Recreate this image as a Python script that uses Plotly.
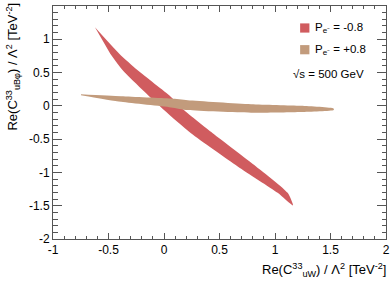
import plotly.graph_objects as go

# ---------------- data ----------------
# P_e- = -0.8 allowed region : two boundary edges (x, y in TeV^-2)
red_edge_a_x = [-0.622, -0.403, -0.237, 0.063, 0.180, 0.439, 0.829, 1.114, 1.162]
red_edge_a_y = [1.179, 0.782, 0.533, 0.134, -0.064, -0.412, -0.910, -1.307, -1.497]
red_edge_b_x = [-0.484, -0.372, 0.000, 0.243, 0.664, 1.024]
red_edge_b_y = [0.782, 0.533, -0.064, -0.412, -0.910, -1.307]

# P_e- = +0.8 allowed region
tan_upper_x = [-0.748, -0.387, 0.063, 0.214, 0.784, 1.234, 1.529]
tan_upper_y = [0.175, 0.145, 0.110, 0.085, 0.025, 0.000, -0.042]
tan_lower_x = [-0.748, -0.387, 0.063, 0.214, 0.784, 1.234, 1.529]
tan_lower_y = [0.160, 0.060, -0.024, -0.064, -0.104, -0.094, -0.064]

x_tickvals = [-1, -0.5, 0, 0.5, 1, 1.5, 2]
x_ticktext = ["-1", "-0.5", "0", "0.5", "1", "1.5", "2"]
y_tickvals = [-2, -1.5, -1, -0.5, 0, 0.5, 1, 1.5]
y_ticktext = ["-2", "-1.5", "-1", "-0.5", "0", "0.5", "1", "1.5"]

legend_labels = ["P<sub>e⁻</sub> = -0.8", "P<sub>e⁻</sub> = +0.8"]
energy_label = "√s = 500 GeV"
x_title = "Re(C<sup>33</sup><sub>uW</sub>) / Λ<sup>2</sup> [TeV<sup>-2</sup>]"
y_title = "Re(C<sup>33</sup><sub>uBφ</sub>) / Λ<sup>2</sup> [TeV<sup>-2</sup>]"

RED = "#d05c5f"
TAN = "#c29b7c"
FONT = "Liberation Sans, Arial, Helvetica, sans-serif"

# ---------------- layout geometry (pixels) ----------------
W, H = 391, 284
L, R, T, B = 52.5, 386, 6, 239


def px_x(p):
    return (p - L) / (R - L)


def px_y(p):
    return (B - p) / (B - T)


fig = go.Figure()

fig.add_trace(go.Scatter(
    x=red_edge_a_x + red_edge_b_x[::-1],
    y=red_edge_a_y + red_edge_b_y[::-1],
    fill="toself", fillcolor=RED, mode="lines",
    line=dict(width=0, color=RED, shape="spline", smoothing=0.6),
    showlegend=False, hoverinfo="skip"))

fig.add_trace(go.Scatter(
    x=tan_upper_x + tan_lower_x[::-1],
    y=tan_upper_y + tan_lower_y[::-1],
    fill="toself", fillcolor=TAN, mode="lines",
    line=dict(width=0, color=TAN, shape="spline", smoothing=0.6),
    showlegend=False, hoverinfo="skip"))

axis_common = dict(
    showgrid=False, zeroline=False, showline=True, linecolor="#555555", linewidth=1,
    mirror="ticks", ticks="inside", tickcolor="#555555", tickwidth=1,
    tickfont=dict(family=FONT, size=12, color="black"), automargin=False,
)

fig.update_xaxes(range=[-1, 2], tickvals=x_tickvals, ticktext=x_ticktext,
                 ticklen=6, minor=dict(ticks="inside", dtick=0.1, ticklen=3,
                                       tickcolor="#555555", tickwidth=1),
                 **axis_common)
fig.update_yaxes(range=[-2, 1.5], tickvals=y_tickvals, ticktext=y_ticktext,
                 ticklen=9, minor=dict(ticks="inside", dtick=0.1, ticklen=4.5,
                                       tickcolor="#555555", tickwidth=1),
                 **axis_common)

shapes = []
annotations = []
# legend
leg_rows = [(28, RED), (49.7, TAN)]
for (cy, col), lab in zip(leg_rows, legend_labels):
    shapes.append(dict(type="rect", xref="paper", yref="paper",
                       x0=px_x(300), x1=px_x(309.3), y0=px_y(cy + 4.6), y1=px_y(cy - 4.6),
                       fillcolor=col, line=dict(width=0)))
    annotations.append(dict(xref="paper", yref="paper", x=px_x(312.5), y=px_y(cy),
                            xanchor="left", yanchor="middle", showarrow=False, text=lab,
                            font=dict(family=FONT, size=11.5, color="black")))
annotations.append(dict(xref="paper", yref="paper", x=px_x(291), y=px_y(74),
                        xanchor="left", yanchor="middle", showarrow=False, text=energy_label,
                        font=dict(family=FONT, size=11.5, color="black")))
# axis titles
annotations.append(dict(xref="paper", yref="paper", x=px_x(388), y=px_y(259),
                        xanchor="right", yanchor="top", showarrow=False, text=x_title,
                        font=dict(family=FONT, size=13, color="black")))
annotations.append(dict(xref="paper", yref="paper", x=px_x(12), y=px_y(1),
                        xanchor="center", yanchor="top", showarrow=False, text=y_title,
                        textangle=-90, font=dict(family=FONT, size=13, color="black")))

fig.update_layout(
    width=W, height=H,
    margin=dict(l=L, r=W - R, t=T, b=H - B, pad=0, autoexpand=False),
    paper_bgcolor="white", plot_bgcolor="white",
    shapes=shapes, annotations=annotations, showlegend=False,
    font=dict(family=FONT, size=12, color="black"),
)

fig.write_html("out.html", config={"displayModeBar": False},
               post_script="document.body.style.margin='0';document.body.style.overflow='hidden';")
